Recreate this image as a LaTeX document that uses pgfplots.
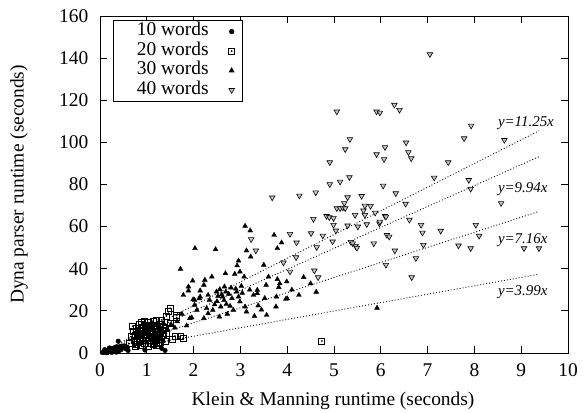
\documentclass[border=0pt]{standalone}
\usepackage{fontspec}
\setmainfont{Liberation Serif}
\usepackage{pgfplots}
\pgfplotsset{compat=1.18}

% square with a dot in the middle (gnuplot style)
\pgfdeclareplotmark{sqdot}{%
  \pgfpathrectangle{\pgfqpoint{-\pgfplotmarksize}{-\pgfplotmarksize}}{\pgfqpoint{2\pgfplotmarksize}{2\pgfplotmarksize}}%
  \pgfusepathqstroke
  \pgfpathcircle{\pgfpointorigin}{0.35\pgfplotmarksize}%
  \pgfusepathqfill}

% legend sample: mark sitting to the right of the text, as gnuplot does
\pgfplotsset{keysample/.style={legend image code/.code={%
  \draw[draw=none, fill=none] (0bp,-1bp) rectangle (27bp,1bp);
  \draw[mark repeat=2, mark phase=2, ##1] plot coordinates {(9bp,0bp) (18bp,0bp) (27bp,0bp)};}}}

\begin{document}
\fontsize{19.5}{23}\selectfont
\begin{tikzpicture}
\path[use as bounding box] (-100bp,-60bp) rectangle (484bp,353bp);
\begin{axis}[
  at={(0,0)}, anchor=south west,
  scale only axis, width=468bp, height=337bp,
  xmin=0, xmax=10, ymin=0, ymax=160,
  xtick={0,1,...,10}, ytick={0,20,...,160},
  tick align=inside, xtick pos=both, ytick pos=both,
  major tick length=7bp,
  axis line style={line width=0.8bp},
  every tick/.style={black, line width=0.8bp},
  /pgf/number format/assume math mode=true,
  xticklabel style={yshift=-4bp},
  yticklabel style={xshift=-5bp},
  xlabel={Klein \& Manning runtime (seconds)},
  ylabel={Dyna parser runtime (seconds)},
  every axis x label/.style={at={(axis description cs:0.498,-0.142)}, anchor=center},
  every axis y label/.style={at={(axis description cs:-0.173,0.5)}, rotate=90, anchor=center},
  legend plot pos=right,
  legend cell align=right,
  legend style={at={(axis description cs:0.028,0.988)}, anchor=north west,
    draw=black, line width=0.6bp, inner sep=1.5bp, column sep=3bp,
    nodes={font=\fontsize{19.5}{23}\selectfont, text height=12.5bp, text depth=4bp, inner ysep=1.5bp, inner xsep=2bp}},
]

% 10 words
\addplot[only marks, keysample, mark=*, mark size=2.3bp, black] coordinates {
(0.05,0.2) (0.08,0.6) (0.10,0.3) (0.12,1.0) (0.14,0.5) (0.16,1.3) (0.18,0.8)
(0.20,1.6) (0.22,0.9) (0.24,1.9) (0.26,1.2) (0.28,2.2) (0.30,1.5) (0.32,2.6)
(0.34,1.8) (0.36,3.0) (0.38,2.2) (0.39,5.6) (0.42,2.6) (0.45,3.2) (0.48,2.4)
(0.52,3.4) (0.10,1.6) (0.20,2.4) (0.15,0.1) (0.25,0.3) (0.30,0.6) (0.40,1.0)
(0.35,0.4) (0.45,1.6) (0.55,2.0) (0.60,1.2) (0.58,2.8)
(0.96,1.4) (1.32,2.2) (1.39,1.2)
};
\addlegendentry{\hspace*{20bp}10 words}

% 20 words
\addplot[only marks, keysample, mark=sqdot, mark size=3bp, black, mark options={line width=0.7bp}] coordinates {
(0.62,4.5) (0.66,7.8) (0.70,12.8) (0.72,10.1) (0.73,6.2) (0.75,3.0) (0.76,8.6)
(0.78,11.5) (0.80,5.2) (0.82,9.4) (0.84,13.5) (0.85,7.0) (0.87,3.8) (0.89,14.4)
(0.90,10.8) (0.91,6.0) (0.93,12.2) (0.94,8.4) (0.95,4.6) (0.97,9.8) (0.98,13.0)
(1.00,7.2) (1.01,11.0) (1.03,14.4) (1.03,3.3) (1.05,5.8) (1.06,9.0) (1.08,12.0)
(1.10,6.8) (1.11,10.4) (1.13,4.2) (1.15,8.0) (1.16,13.2) (1.18,11.4) (1.20,6.2)
(1.21,15.7) (1.21,3.8) (1.23,9.6) (1.25,7.4) (1.27,12.6) (1.29,5.0) (1.30,10.2)
(1.32,15.7) (1.33,8.2) (1.35,8.5) (1.36,12.0) (1.39,11.7) (1.39,5.4) (1.42,9.4)
(1.42,17.6) (1.46,19.6) (1.50,21.2) (1.50,14.0) (1.55,6.6) (1.60,8.1) (1.64,16.8)
(1.64,18.0) (1.71,7.7) (1.78,7.0) (0.89,13.8)
(0.80,8.0) (0.86,10.2) (0.92,9.0) (0.96,6.8) (1.02,8.6) (1.07,10.8) (1.12,9.2)
(1.17,7.0) (1.22,11.0) (1.26,9.0) (1.31,6.6) (0.84,5.6) (0.99,11.8) (1.09,4.8)
(1.19,12.8) (1.28,13.8) (1.34,10.6) (0.77,4.2) (1.04,12.8) (1.14,6.0) (1.24,4.6)
(0.88,12.0) (0.95,14.8) (1.13,15.0)
(4.74,5.7)
};
\addlegendentry{\hspace*{20bp}20 words}

% 30 words
\addplot[only marks, keysample, mark=triangle*, mark size=2.8bp, black] coordinates {
(1.20,9.0) (1.28,12.5) (1.35,14.0) (1.45,11.0) (1.52,13.5) (1.60,12.0) (1.72,39.9)
(1.78,27.5) (1.89,31.5) (1.89,29.6) (1.92,16.5) (1.96,16.8) (1.98,34.3) (1.99,25.4)
(2.02,22.8) (2.02,25.2) (2.03,49.7) (2.07,20.4) (2.12,25.9) (2.14,26.7) (2.14,29.6)
(2.22,32.3) (2.22,16.5) (2.24,34.7) (2.28,21.2) (2.31,18.8) (2.31,27.5) (2.34,25.2)
(2.39,36.2) (2.41,20.4) (2.45,23.0) (2.47,49.2) (2.49,29.1) (2.50,24.5) (2.55,17.2)
(2.56,30.2) (2.58,22.0) (2.62,26.7) (2.65,25.0) (2.68,37.8) (2.69,29.1) (2.70,23.2)
(2.72,18.5) (2.75,28.0) (2.78,22.3) (2.80,31.0) (2.85,20.4) (2.88,37.5) (2.90,30.5)
(2.92,29.1) (2.93,41.5) (2.96,26.7) (2.96,43.8) (2.99,24.4) (2.99,38.6) (3.02,31.8)
(3.04,28.5) (3.08,36.2) (3.10,22.0) (3.10,60.3) (3.13,19.6) (3.13,48.6) (3.20,30.0)
(3.21,58.1) (3.22,45.7) (3.28,27.5) (3.30,17.5) (3.36,29.9) (3.36,28.3) (3.38,22.5)
(3.45,20.5) (3.50,41.8) (3.52,26.0) (3.55,32.3) (3.56,18.0) (3.60,36.2) (3.72,56.0)
(3.76,22.0) (3.77,26.7) (3.79,49.7) (3.79,35.0) (3.84,33.0) (3.82,31.2) (3.88,52.4)
(3.97,25.6) (3.99,33.9) (4.00,25.9) (4.10,30.0) (4.25,27.5) (4.35,36.0) (4.50,33.0)
(4.62,29.0) (5.92,21.4)
(1.65,15.0) (1.75,18.5) (1.85,13.0) (2.60,27.8) (2.82,26.0) (2.66,31.5) (2.52,27.0)
};
\addlegendentry{\hspace*{20bp}30 words}

% 40 words
\addplot[only marks, keysample, mark=triangle*, mark size=3.2bp, black,
  mark options={rotate=180, fill=gray!45, draw=black, line width=0.6bp}] coordinates {
(3.23,54.0) (3.33,48.6) (3.68,73.8) (3.92,42.9) (4.06,56.5) (4.06,38.6) (4.19,45.4)
(4.20,52.4) (4.26,74.7) (4.51,56.8) (4.56,63.6) (4.58,39.1) (4.61,76.2) (4.63,50.2)
(4.66,35.9) (4.76,55.7) (4.84,65.0) (4.90,64.4) (4.91,90.5) (4.91,80.1) (4.97,52.9)
(4.99,64.0) (4.99,60.8) (5.04,58.1) (5.06,114.6) (5.06,68.7) (5.13,81.3) (5.13,68.7)
(5.19,69.0) (5.22,71.1) (5.24,96.7) (5.24,68.7) (5.29,73.9) (5.29,60.5) (5.33,83.4)
(5.34,101.5) (5.36,52.7) (5.40,52.0) (5.45,65.5) (5.46,50.8) (5.49,49.9) (5.51,60.0)
(5.59,74.5) (5.63,67.6) (5.66,69.9) (5.66,65.5) (5.70,61.1) (5.78,69.8) (5.85,52.0)
(5.88,66.6) (5.91,114.6) (5.91,94.3) (5.97,61.5) (5.98,114.1) (5.98,62.3) (6.05,79.4)
(6.07,92.0) (6.09,97.7) (6.09,65.0) (6.11,64.7) (6.11,41.8) (6.13,56.0) (6.18,55.2)
(6.29,117.8) (6.30,48.6) (6.32,75.8) (6.40,115.4) (6.53,70.8) (6.54,99.9) (6.59,95.3)
(6.61,63.2) (6.65,92.4) (6.66,35.9) (6.75,45.0) (6.86,60.8) (6.89,57.1) (6.91,51.3)
(7.05,141.8) (7.14,83.2) (7.28,58.0) (7.44,90.5) (7.66,51.0) (7.78,101.9) (7.88,82.1)
(7.92,77.9) (7.92,49.7) (7.93,107.9) (8.03,60.8) (8.10,55.6) (8.57,71.1) (8.64,101.1)
(9.06,49.7) (9.38,49.7)
};
\addlegendentry{\hspace*{20bp}40 words}

% fitted lines
\addplot[forget plot, black, line width=0.9bp, dash pattern=on 0.9bp off 2.1bp] coordinates {(0.05,0.56) (9.38,105.5)};
\addplot[forget plot, black, line width=0.9bp, dash pattern=on 0.9bp off 2.1bp] coordinates {(0.05,0.50) (9.38,93.2)};
\addplot[forget plot, black, line width=0.9bp, dash pattern=on 0.9bp off 2.1bp] coordinates {(0.05,0.36) (9.38,67.2)};
\addplot[forget plot, black, line width=0.9bp, dash pattern=on 0.9bp off 2.1bp] coordinates {(0.05,0.20) (9.38,37.4)};

\node[anchor=west, inner sep=0pt, font=\fontsize{15}{18}\selectfont\itshape] at (axis cs:8.5,109) {y=11.25x};
\node[anchor=west, inner sep=0pt, font=\fontsize{15}{18}\selectfont\itshape] at (axis cs:8.5,78) {y=9.94x};
\node[anchor=west, inner sep=0pt, font=\fontsize{15}{18}\selectfont\itshape] at (axis cs:8.5,53.7) {y=7.16x};
\node[anchor=west, inner sep=0pt, font=\fontsize{15}{18}\selectfont\itshape] at (axis cs:8.5,29) {y=3.99x};
\end{axis}
\end{tikzpicture}
\end{document}
